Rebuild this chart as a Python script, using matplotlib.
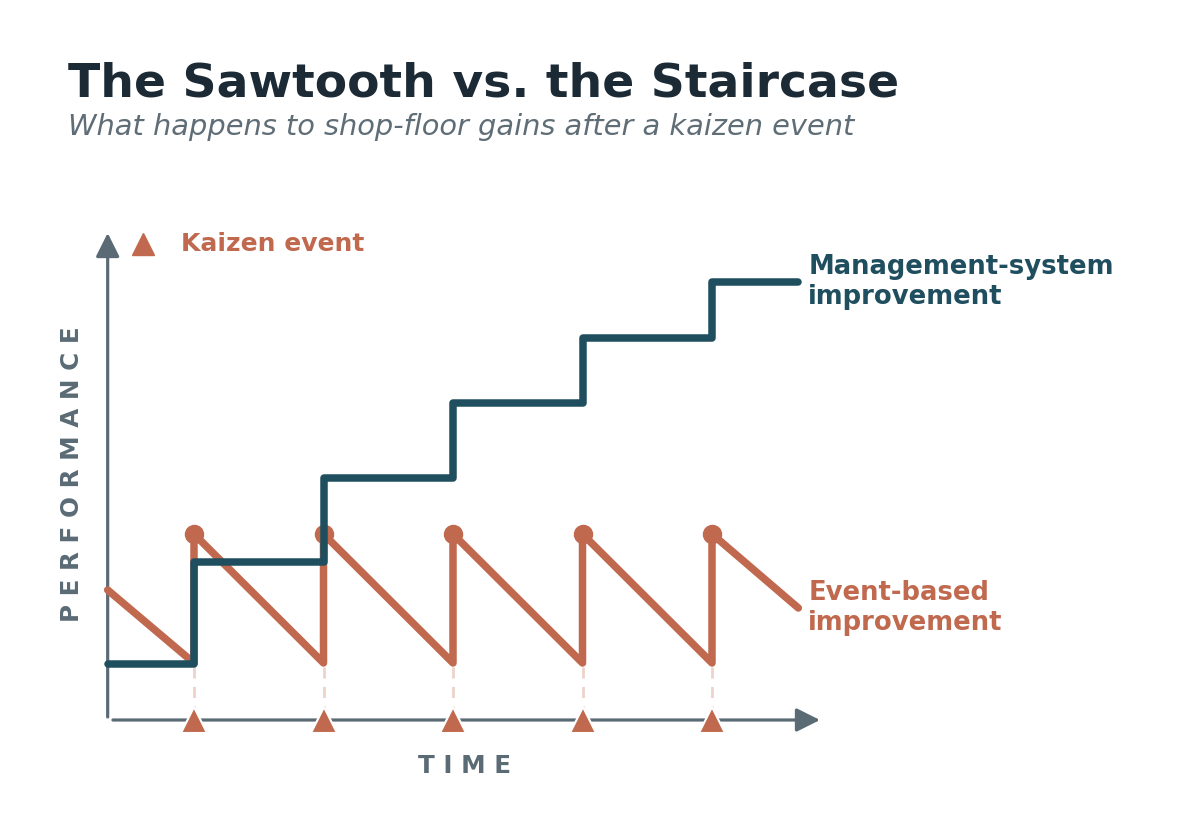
import matplotlib
matplotlib.use("Agg")
import matplotlib.pyplot as plt

# ---- data ----
event_times = [1, 2, 3, 4, 5]
t_start, t_end = 1/3, 17/3
saw_t = [t_start, 1, 1, 2, 2, 3, 3, 4, 4, 5, 5, t_end]
saw_p = [13.0, 5.7, 18.6, 5.7, 18.6, 5.7, 18.6, 5.7, 18.6, 5.7, 18.6, 11.2]
peak_p = [18.6, 18.6, 18.6, 18.6, 18.6]
trough_p = 5.7
stair_t = [t_start, 1, 2, 3, 4, 5, t_end]
stair_p = [5.6, 15.8, 24.2, 31.7, 38.2, 43.8, 43.8]

title = "The Sawtooth vs. the Staircase"
subtitle = "What happens to shop-floor gains after a kaizen event"
label_stair = "Management-system\nimprovement"
label_saw = "Event-based\nimprovement"
legend_label = "Kaizen event"
xlabel = "T I M E"
ylabel = "P E R F O R M A N C E"

ORANGE = "#C0694E"
TEAL = "#1F4E5F"
GREY = "#5B6B75"
DASH = "#EDD3C9"
TITLE_C = "#1C2A35"
SUB_C = "#5F6D76"

W, H = 1177, 840
fig = plt.figure(figsize=(W/100, H/100), dpi=100)
fig.patch.set_facecolor("white")

# axes placement (pixel mapping: x = 194 + (t-1)*129.5, y = 720 - 10*p)
xl, xr = 0.0, 6.2
yb, yt = -4.0, 52.0
def px(t):
    return 194 + (t - 1) * 129.5
def py(p):
    return 720 - 10 * p
left = px(xl) / W
right = px(xr) / W
bottom = (H - py(yb)) / H
top = (H - py(yt)) / H
ax = fig.add_axes([left, bottom, right - left, top - bottom])
ax.set_xlim(xl, xr)
ax.set_ylim(yb, yt)
ax.axis("off")

# axes arrows
arrow_style = "-|>,head_length=1.2,head_width=0.6"
ax.annotate("", xy=(t_start, 48.7), xytext=(t_start, 0.3),
            arrowprops=dict(arrowstyle=arrow_style, color=GREY, lw=2.3,
                            shrinkA=0, shrinkB=0, mutation_scale=12))
ax.annotate("", xy=(5.834, 0), xytext=(0.374, 0),
            arrowprops=dict(arrowstyle=arrow_style, color=GREY, lw=2.3,
                            shrinkA=0, shrinkB=0, mutation_scale=12))

# dashed guides
for t in event_times:
    ax.plot([t, t], [trough_p - 0.4, 1.0], color=DASH, lw=2,
            dashes=(4, 3), zorder=2, solid_capstyle="butt")

# sawtooth
ax.plot(saw_t, saw_p, color=ORANGE, lw=5.4, solid_joinstyle="round",
        solid_capstyle="round", zorder=3)
ax.plot(event_times, peak_p, "o", color=ORANGE, ms=13, zorder=3)

# staircase
ax.plot(stair_t, stair_p, color=TEAL, lw=5.4, drawstyle="steps-post",
        solid_joinstyle="round", solid_capstyle="round", zorder=4)

# event triangles on time axis
ax.plot(event_times, [0.0] * len(event_times), "^", color=ORANGE, ms=19,
        mec="white", mew=1.5, zorder=5, clip_on=False)

# legend
ax.plot([0.606], [47.6], "^", color=ORANGE, ms=16, clip_on=False)
ax.text(0.9, 47.6, legend_label, color=ORANGE, fontsize=18,
        fontweight="bold", va="center", ha="left")

# end labels
off = 10 / 129.5
ax.text(t_end + off, stair_p[-1], label_stair, color=TEAL, fontsize=18.6,
        fontweight="bold", va="center", ha="left", linespacing=1.2,
        clip_on=False)
ax.text(t_end + off, saw_p[-1], label_saw, color=ORANGE, fontsize=18.6,
        fontweight="bold", va="center", ha="left", linespacing=1.2,
        clip_on=False)

# axis labels
fig.text(72 / W, 1 - 474 / H, ylabel, rotation=90, color=GREY, fontsize=17.7,
         fontweight="bold", ha="center", va="center")
fig.text(464 / W, 1 - 766 / H, xlabel, color=GREY, fontsize=17.7,
         fontweight="bold", ha="center", va="center")

# titles
fig.text(68 / W, 1 - 84 / H, title, color=TITLE_C, fontsize=34,
         fontweight="bold", ha="left", va="center")
fig.text(68 / W, 1 - 127 / H, subtitle, color=SUB_C, fontsize=20.8,
         style="italic", ha="left", va="center")

fig.savefig("out.png", dpi=100, facecolor="white")
